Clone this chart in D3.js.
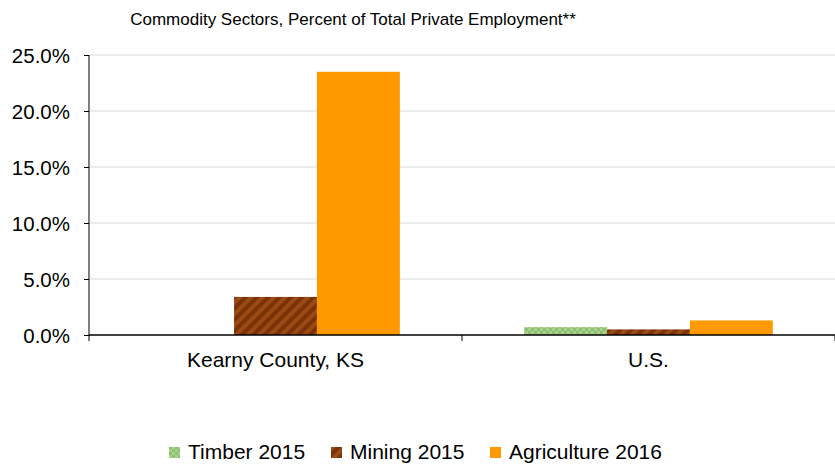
<!DOCTYPE html>
<html>
<head>
<meta charset="utf-8">
<script src="https://cdn.jsdelivr.net/npm/d3@7"></script>
<style>
    body { margin: 0; background: #fff; }
    text { font-family: "Liberation Sans", Arial, sans-serif; fill: #000; }
</style>
</head>
<body>
<svg id="chart" width="835" height="464"></svg>
<script>
// Chart data
const categories = ["Kearny County, KS", "U.S."];
const seriesNames = ["Timber 2015", "Mining 2015", "Agriculture 2016"];
const timber = [0.0, 0.7];
const mining = [3.4, 0.5];
const agriculture = [23.5, 1.3];
const yTicks = [0, 5, 10, 15, 20, 25];

const seriesValues = [timber, mining, agriculture];

const svg = d3.select("#chart");
const margin = { top: 55, right: 0, bottom: 129, left: 89 };
const width = 835 - margin.left - margin.right;
const height = 464 - margin.top - margin.bottom;

// Patterns for the textured bars
const defs = svg.append("defs");

const timberPat = defs.append("pattern")
    .attr("id", "pat-timber")
    .attr("patternUnits", "userSpaceOnUse")
    .attr("width", 6).attr("height", 6);
timberPat.append("rect").attr("width", 6).attr("height", 6).attr("fill", "#a9d18e");
timberPat.append("rect").attr("width", 3).attr("height", 3).attr("fill", "#8cbf6e");
timberPat.append("rect").attr("x", 3).attr("y", 3).attr("width", 3).attr("height", 3).attr("fill", "#8cbf6e");

const miningPat = defs.append("pattern")
    .attr("id", "pat-mining")
    .attr("patternUnits", "userSpaceOnUse")
    .attr("width", 8).attr("height", 8)
    .attr("patternTransform", "rotate(45)");
miningPat.append("rect").attr("width", 8).attr("height", 8).attr("fill", "#9a4a12");
miningPat.append("rect").attr("width", 4).attr("height", 8).attr("fill", "#7a3208");

const fills = ["url(#pat-timber)", "url(#pat-mining)", "#ff9900"];

// Scales
const x0 = d3.scaleBand().domain(categories).range([0, width]);
const x1 = d3.scaleBand().domain(seriesNames)
    .range([0, x0.bandwidth()]).paddingOuter(0.75).paddingInner(0);
const y = d3.scaleLinear().domain([0, 25]).range([height, 0]);

const g = svg.append("g").attr("transform", `translate(${margin.left},${margin.top})`);

// Gridlines
g.append("g")
    .selectAll("line")
    .data(yTicks.slice(1))
    .join("line")
    .attr("x1", 0).attr("x2", width)
    .attr("y1", (d) => y(d)).attr("y2", (d) => y(d))
    .attr("stroke", "#d9d9d9").attr("stroke-width", 1);

// Bars
const groups = g.append("g")
    .selectAll("g")
    .data(categories)
    .join("g")
    .attr("transform", (d) => `translate(${x0(d)},0)`);

groups.selectAll("rect")
    .data((d, i) => seriesNames.map((s, j) => ({ s, j, v: seriesValues[j][i] })))
    .join("rect")
    .attr("x", (d) => x1(d.s))
    .attr("width", x1.bandwidth())
    .attr("y", (d) => y(d.v))
    .attr("height", (d) => height - y(d.v))
    .attr("fill", (d) => fills[d.j]);

// Y axis
const yAxis = g.append("g")
    .call(d3.axisLeft(y).tickValues(yTicks).tickSize(5).tickPadding(14)
        .tickFormat((d) => d.toFixed(1) + "%"));
yAxis.select(".domain").attr("stroke", "#000").attr("d", `M0,0V${height}`);
yAxis.selectAll(".tick line").attr("stroke", "#000");
yAxis.selectAll(".tick text").attr("font-size", 20.5).attr("dy", "0.38em").attr("fill", "#000");

// X axis baseline with category separator ticks
const xAxis = g.append("g").attr("transform", `translate(0,${height})`);
xAxis.append("line").attr("x1", 0).attr("x2", width).attr("stroke", "#000").attr("stroke-width", 1.5);
xAxis.selectAll(".sep")
    .data([0, ...categories.map((c) => x0(c) + x0.bandwidth())])
    .join("line")
    .attr("x1", (d) => d).attr("x2", (d) => d)
    .attr("y1", 0).attr("y2", 6)
    .attr("stroke", "#000");
xAxis.selectAll(".cat")
    .data(categories)
    .join("text")
    .attr("x", (d) => x0(d) + x0.bandwidth() / 2)
    .attr("y", 32)
    .attr("text-anchor", "middle")
    .attr("font-size", 21)
    .text((d) => d);

// Title
svg.append("text")
    .attr("x", 353).attr("y", 25)
    .attr("text-anchor", "middle")
    .attr("font-size", 17)
    .text("Commodity Sectors, Percent of Total Private Employment**");

// Legend
const legendX = [169, 331, 490];
const legend = svg.append("g").attr("transform", "translate(0,452)");
const items = legend.selectAll("g")
    .data(seriesNames)
    .join("g")
    .attr("transform", (d, i) => `translate(${legendX[i]},0)`);
items.append("rect")
    .attr("x", 0).attr("y", -5)
    .attr("width", 11).attr("height", 11)
    .attr("fill", (d, i) => fills[i]);
items.append("text")
    .attr("x", 19).attr("y", 7)
    .attr("font-size", 21)
    .text((d) => d);
</script>
</body>
</html>
